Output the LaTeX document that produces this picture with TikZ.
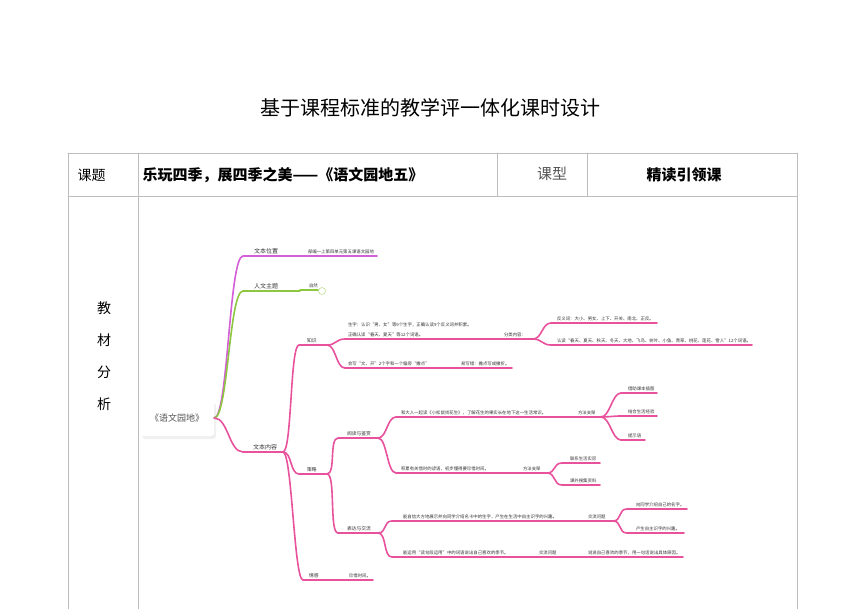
\documentclass[tikz,border=0pt]{standalone}
\usepackage{fontspec}
\setmainfont{Noto Sans CJK SC}
\definecolor{Tline}{HTML}{BDBDBD}
\definecolor{Vline}{HTML}{D35ED6}
\definecolor{Gline}{HTML}{8DC63F}
\definecolor{Pline}{HTML}{E8529C}
\definecolor{Mtext}{HTML}{333333}
\definecolor{Rtext}{HTML}{555555}

\begin{document}
\begin{tikzpicture}[x=1pt,y=-1pt,line join=round,line cap=round,
  tab/.style={draw=Tline,line width=0.8pt},
  link/.style={line width=1.6pt},
  big/.style={font=\fontsize{6}{7}\selectfont,text=Mtext,inner sep=0.8pt,anchor=south west},
  mid/.style={font=\fontsize{4.8}{6}\selectfont,text=Mtext,inner sep=0.8pt,anchor=south west},
  sml/.style={font=\fontsize{4.4}{9.5}\selectfont,text=Mtext,inner sep=0.8pt,anchor=south west,align=left},
  br/.style={out=0,in=180,distance=#1},br/.default=9pt]
\useasboundingbox (0,0) rectangle (861,609);

% ---- heading ----
\node[font=\fontsize{20}{24}\selectfont] (head) at (430,108) {基于课程标准的教学评一体化课时设计};

% ---- table frame ----
\draw[tab] (68,153) -- (797,153) (68,196) -- (797,196);
\foreach \x in {68,138,797} \draw[tab] (\x,153) -- (\x,609);
\foreach \x in {497,587} \draw[tab] (\x,153) -- (\x,196);

\node[anchor=west,font=\fontsize{14}{16}\selectfont] (kt) at (74,175) {课题};
\node[anchor=west,font=\fontsize{15}{17}\selectfont\bfseries] (ktv) at (139,175) {乐玩四季，展四季之美——《语文园地五》};
\node[font=\fontsize{15}{17}\selectfont,text=Rtext] (kx) at (552,174) {课型};
\node[font=\fontsize{15}{17}\selectfont\bfseries] (kxv) at (684,175) {精读引领课};
\foreach \ch [count=\i] in {教,材,分,析}
  \node[font=\fontsize{14}{16}\selectfont] (jc\i) at (104,276+32*\i) {\ch};

% ---- root of the map ----
\fill[black!6,rounded corners=3pt] (142,403) rectangle (216,439);
\node[fill=white,rounded corners=3pt,minimum width=74pt,minimum height=36pt,
  font=\fontsize{9}{11}\selectfont,text=Rtext] (root) at (177,418) {《语文园地》};

% ---- topics: name/start/end/line y/text x/style/colour/text ----
\foreach \nm/\xs/\xe/\yy/\tx/\sty/\col/\txt in {
  wz/243/300/256/253/big/Vline/文本位置,
  wz1/300/377/256/307/sml/Vline/部编一上第四单元第五课语文园地,
  rw/243/300/291/253/big/Gline/人文主题,
  rw1/300/318/290/308/sml/Gline/自然,
  nr/243/283/452/252/big/Pline/文本内容,
  zs/299/327/345/306/mid/Pline/知识,
  zs1/345/497/339/347/sml/Pline/{生字：认识“男、女”等9个生字，正确认读9个反义词并积累。\\正确认读“春天、夏天”等12个词语。},
  flk/497/533/339/503/sml/Pline/分类内容：,
  fy/551/657/323/556/sml/Pline/反义词：大小、男女、上下、开关、南北、正反。,
  rd/551/752/345/556/sml/Pline/认读“春天、夏天、秋天、冬天、大地、飞鸟、树叶、小鱼、青草、桃花、莲花、雪人”12个词语。,
  zs2/345/455/368/347/sml/Pline/会写“文、开”2个字和一个偏旁“撇点”,
  zs3/455/512/368/460/sml/Pline/易写错：撇点写成撇折。,
  cl/299/327/474/306/mid/Pline/策略,
  yd/338/378/438/346/mid/Pline/阅读与鉴赏,
  yd1/396/575/417/400/sml/Pline/和大人一起读《小松鼠找花生》，了解花生的果实长在地下这一生活常识。,
  yd1f/575/601/417/577/sml/Pline/方法支架,
  jz/621/657/393/627/sml/Pline/借助课本插图,
  jh/621/657/416/627/sml/Pline/结合生活经验,
  ts/621/645/440/627/sml/Pline/提示语,
  yd2/396/520/473/400/sml/Pline/积累有关惜时的谚语，初步懂得要珍惜时间。,
  yd2f/520/547/473/522/sml/Pline/方法支架,
  lx/562/600/463/569/sml/Pline/联系生活实际,
  kw/562/600/485/569/sml/Pline/课外搜集资料,
  bd/338/378/533/346/mid/Pline/表达与交流,
  bd1/392/585/521/402/sml/Pline/能自信大方地展示并向同学介绍名卡中的生字，产生在生活中自主识字的兴趣。,
  bd1f/585/613/521/587/sml/Pline/交流问题,
  js/627/687/509/635/sml/Pline/向同学介绍自己的名字。,
  cs/627/684/533/635/sml/Pline/产生自主识字的兴趣。,
  bd2/392/530/557/402/sml/Pline/能运用“读句段运用”中的词语说出自己喜欢的季节。,
  bd2f/530/580/557/538/sml/Pline/交流问题,
  bd3/580/683/557/587/sml/Pline/说说自己喜欢的季节，用一句话说出具体原因。,
  qg/303/340/580/308/mid/Pline/情感,
  qg1/340/373/580/348/sml/Pline/珍惜时间。}{
  \coordinate (\nm-s) at (\xs,\yy);
  \coordinate (\nm-e) at (\xe,\yy);
  \draw[\col,link] (\nm-s) -- (\nm-e);
  \node[\sty] (\nm) at (\tx,\yy-1.5) {\txt};}

% note mark behind the green topic
\node[circle,draw=Gline!70,fill=white,line width=0.5pt,minimum size=7pt,inner sep=0pt] (note) at (322,291) {};

% ---- branches ----
\draw[Vline,link] (root.east) to[br=14pt] (wz-s);
\draw[Gline,link] (root.east) to[br=14pt] (rw-s);
\draw[Pline,link] (root.east) to[br=14pt] (nr-s);
\foreach \a/\b in {nr/zs,nr/cl,nr/qg,zs/zs1,zs/zs2,flk/fy,flk/rd,cl/yd,cl/bd,
    yd/yd1,yd/yd2,yd1f/jz,yd1f/jh,yd1f/ts,yd2f/lx,yd2f/kw,bd/bd1,bd/bd2,bd1f/js,bd1f/cs}
  \draw[Pline,link] (\a-e) to[br] (\b-s);
\end{tikzpicture}
\end{document}
